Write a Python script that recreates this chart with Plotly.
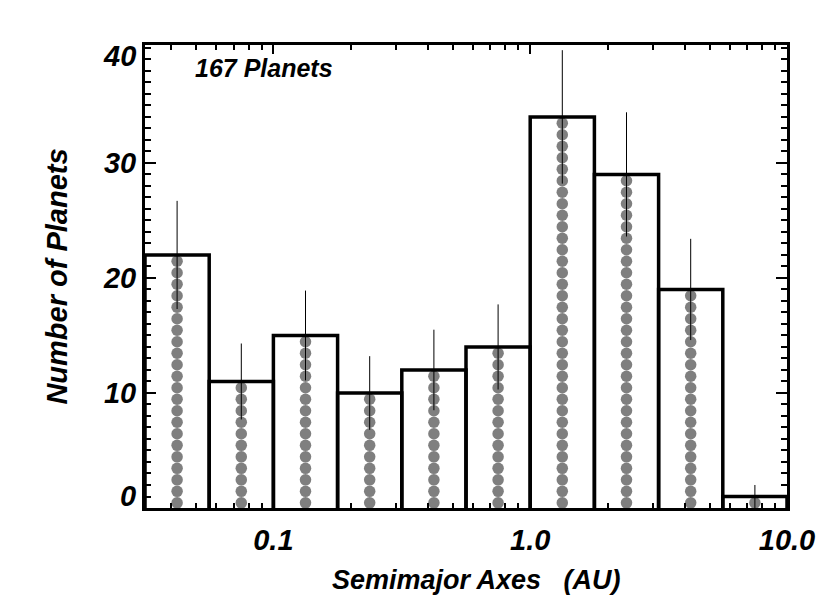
import plotly.graph_objects as go

# ---- data ----
bin_edges = [10**-1.5, 10**-1.25, 10**-1.0, 10**-0.75, 10**-0.5, 10**-0.25,
             10**0.0, 10**0.25, 10**0.5, 10**0.75, 10**1.0]
bin_centers = [10**-1.375, 10**-1.125, 10**-0.875, 10**-0.625, 10**-0.375,
               10**-0.125, 10**0.125, 10**0.375, 10**0.625, 10**0.875]
counts = [22, 11, 15, 10, 12, 14, 34, 29, 19, 1]
errors = [4.7, 3.3, 3.9, 3.2, 3.5, 3.7, 5.8, 5.4, 4.4, 1.0]

x_tick_vals = [0.1, 1.0, 10.0]
x_tick_text = ["0.1", "1.0", "10.0"]
x_minor_vals = [0.04, 0.05, 0.06, 0.07, 0.08, 0.09,
                0.2, 0.3, 0.4, 0.5, 0.6, 0.7, 0.8, 0.9,
                2, 3, 4, 5, 6, 7, 8, 9]
y_tick_vals = [10, 20, 30]
y_tick_text = ["10", "20", "30"]

FONT = "Liberation Sans, Arial, Helvetica, sans-serif"

# stacked dots: one per planet
dot_x, dot_y = [], []
for c, n in zip(bin_centers, counts):
    for k in range(n):
        dot_x.append(c)
        dot_y.append(k + 0.45)

# histogram outlines
bx, by = [], []
for i, n in enumerate(counts):
    bx += [bin_edges[i], bin_edges[i], bin_edges[i + 1], bin_edges[i + 1], None]
    by += [0, n, n, 0, None]

fig = go.Figure()
fig.add_trace(go.Scatter(x=dot_x, y=dot_y, mode="markers",
                         marker=dict(size=11.5, color="#7f7f7f", line=dict(width=0)),
                         hoverinfo="skip", showlegend=False))
fig.add_trace(go.Scatter(x=bx, y=by, mode="lines",
                         line=dict(color="black", width=3.5),
                         hoverinfo="skip", showlegend=False))
fig.add_trace(go.Scatter(x=bin_centers, y=counts, mode="markers",
                         marker=dict(size=1, color="rgba(0,0,0,0)"),
                         error_y=dict(type="data", array=errors, visible=True,
                                      color="black", thickness=1, width=0),
                         showlegend=False))

tickfont = dict(family=FONT, size=29, color="black", weight="bold", style="italic")
fig.update_layout(
    width=822, height=592,
    margin=dict(l=137, r=43, t=37, b=92),
    paper_bgcolor="white", plot_bgcolor="white",
    xaxis=dict(type="log", range=[-1.5, 1.0],
               tickmode="array", tickvals=x_tick_vals, ticktext=x_tick_text,
               ticks="inside", ticklen=9, tickwidth=2, tickcolor="black",
               minor=dict(tickmode="array", tickvals=x_minor_vals, ticks="inside",
                          ticklen=5, tickwidth=2, tickcolor="black"),
               showline=True, linewidth=3, linecolor="black", mirror="allticks",
               showgrid=False, zeroline=False,
               tickfont=tickfont, ticklabelstandoff=4),
    yaxis=dict(range=[0, 40.25],
               tickmode="array", tickvals=y_tick_vals, ticktext=y_tick_text,
               ticks="inside", ticklen=11, tickwidth=2, tickcolor="black",
               minor=dict(dtick=1, ticks="inside", ticklen=6, tickwidth=2,
                          tickcolor="black"),
               showline=True, linewidth=3, linecolor="black", mirror="allticks",
               showgrid=False, zeroline=False,
               tickfont=tickfont,
               title=dict(text="Number of Planets",
                          font=dict(family=FONT, size=29, color="black",
                                    weight="bold", style="italic"), standoff=27)),
)

# tick labels at the axis ends, shifted inward as in the reference
for val, txt in [(1.05, "0"), (39.3, "40")]:
    fig.add_annotation(x=0, xref="paper", y=val, yref="y", text=txt,
                       showarrow=False, xanchor="right", yanchor="middle", xshift=-7,
                       font=tickfont)

# x-axis title (placed slightly right of centre as in the reference)
fig.add_annotation(x=0.517, xref="paper", y=0, yref="paper",
                   text="Semimajor Axes   (AU)", showarrow=False,
                   xanchor="center", yanchor="top", yshift=-55,
                   font=dict(family=FONT, size=27, color="black",
                             weight="bold", style="italic"))

fig.add_annotation(x=0.074, xref="paper", y=0.95, yref="paper",
                   text="167 Planets", showarrow=False,
                   xanchor="left", yanchor="middle",
                   font=dict(family=FONT, size=25, color="black",
                             weight="bold", style="italic"))

fig.write_html("out.html")
